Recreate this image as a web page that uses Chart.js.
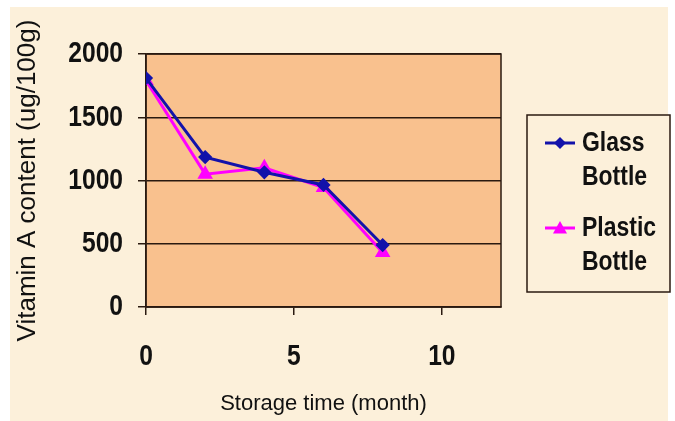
<!DOCTYPE html>
<html lang="en">
<head>
  <meta charset="UTF-8" />
  <title>Vitamin A content vs storage time</title>
  <script src="https://cdn.jsdelivr.net/npm/chart.js"></script>
  <style>
    body { margin: 0; background: #ffffff; }
    #wrap { width: 675px; height: 421px; }
  </style>
</head>
<body>
<div id="wrap"><canvas id="chart"></canvas></div>
<script>
  // data
  const months = [0, 2, 4, 6, 8];
  const glass = [1810, 1185, 1065, 965, 490];
  const plastic = [1790, 1050, 1100, 945, 430];
  const seriesNames = [["Glass", "Bottle"], ["Plastic", "Bottle"]];
  const xTicks = [0, 5, 10];
  const yTicks = [0, 500, 1000, 1500, 2000];

  const cream = "#fcf0da";
  const peach = "#f9c18e";
  const blue = "#1212aa";
  const pink = "#ff00ff";
  const ink = "#111111";
  const sans = "'Liberation Sans', Arial, sans-serif";

  // no narrow face installed, so squeeze Arial-like text by hand
  function narrowText(ctx, text, x, y, align) {
    ctx.save();
    ctx.translate(x, y);
    ctx.scale(0.82, 1);
    ctx.textAlign = align;
    ctx.fillText(text, 0, 0);
    ctx.restore();
  }

  // outer frame + plot fill
  const backdrop = {
    id: "backdrop",
    beforeDraw(chart) {
      const { ctx, chartArea: a } = chart;
      ctx.save();
      ctx.fillStyle = "#ffffff";
      ctx.fillRect(0, 0, chart.width, chart.height);
      ctx.fillStyle = cream;
      ctx.fillRect(10, 7, chart.width - 17, chart.height - 7);
      ctx.fillStyle = peach;
      ctx.fillRect(a.left, a.top, a.right - a.left, a.bottom - a.top);
      ctx.restore();
    },
    beforeDatasetsDraw(chart) {
      const { ctx, chartArea: a } = chart;
      ctx.save();
      ctx.strokeStyle = "#2a1a10";
      ctx.lineWidth = 1.5;
      ctx.strokeRect(a.left, a.top, a.right - a.left, a.bottom - a.top);
      ctx.restore();
    }
  };

  // tick labels in a condensed bold face
  const narrowTicks = {
    id: "narrowTicks",
    afterDraw(chart) {
      const { ctx } = chart;
      const { x, y } = chart.scales;
      ctx.save();
      ctx.fillStyle = ink;
      ctx.font = "bold 30px " + sans;
      ctx.textBaseline = "middle";
      y.ticks.forEach(t => narrowText(ctx, String(t.value), y.right - 23, y.getPixelForValue(t.value), "right"));
      x.ticks.forEach(t => narrowText(ctx, String(t.value), x.getPixelForValue(t.value), x.top + 50, "center"));
      ctx.restore();
    }
  };

  function marker(ctx, style, x, y, r) {
    ctx.beginPath();
    if (style === "rectRot") {
      ctx.moveTo(x, y - r); ctx.lineTo(x + r, y); ctx.lineTo(x, y + r); ctx.lineTo(x - r, y);
    } else {
      ctx.moveTo(x, y - r); ctx.lineTo(x + r, y + r * 0.8); ctx.lineTo(x - r, y + r * 0.8);
    }
    ctx.closePath();
    ctx.fill();
  }

  // boxed legend on the right, two-line labels
  const sideLegend = {
    id: "sideLegend",
    afterDraw(chart) {
      const { ctx } = chart;
      const box = { x: 527, y: 115, w: 143, h: 177 };
      ctx.save();
      ctx.fillStyle = cream;
      ctx.fillRect(box.x, box.y, box.w, box.h);
      ctx.strokeStyle = "#2a1a10";
      ctx.lineWidth = 1.5;
      ctx.strokeRect(box.x, box.y, box.w, box.h);
      ctx.font = "bold 28px " + sans;
      ctx.textBaseline = "middle";
      chart.data.datasets.forEach((ds, i) => {
        const y = box.y + 28 + i * 85;
        ctx.strokeStyle = ds.borderColor;
        ctx.lineWidth = 3;
        ctx.beginPath();
        ctx.moveTo(box.x + 18, y);
        ctx.lineTo(box.x + 48, y);
        ctx.stroke();
        ctx.fillStyle = ds.pointBackgroundColor;
        marker(ctx, ds.pointStyle, box.x + 33, y, ds.pointRadius + 1);
        ctx.fillStyle = ink;
        ds.label.forEach((line, j) => narrowText(ctx, line, box.x + 55, y + j * 34, "left"));
      });
      ctx.restore();
    }
  };

  new Chart(document.getElementById("chart"), {
    type: "line",
    data: {
      datasets: [
        {
          label: seriesNames[0],
          data: months.map((m, i) => ({ x: m, y: glass[i] })),
          borderColor: blue, pointBackgroundColor: blue, pointBorderColor: blue,
          pointStyle: "rectRot", pointRadius: 5, borderWidth: 3
        },
        {
          label: seriesNames[1],
          data: months.map((m, i) => ({ x: m, y: plastic[i] })),
          borderColor: pink, pointBackgroundColor: pink, pointBorderColor: pink,
          pointStyle: "triangle", pointRadius: 6, borderWidth: 3
        }
      ]
    },
    options: {
      responsive: true,
      maintainAspectRatio: false,
      animation: false,
      layout: { padding: { left: 10, top: 54, right: 174, bottom: 0 } },
      plugins: { legend: { display: false }, tooltip: { enabled: false } },
      scales: {
        x: {
          type: "linear", min: 0, max: 12,
          afterFit: s => { s.height = 114; },
          afterBuildTicks: s => { s.ticks = xTicks.map(v => ({ value: v })); },
          grid: { drawOnChartArea: false, drawTicks: true, tickLength: 8, color: "#2a1a10", lineWidth: 1.5 },
          border: { color: "#2a1a10", width: 1.5 },
          ticks: { display: false },
          title: { display: true, text: "Storage time (month)", color: ink,
                   padding: { top: 0, bottom: 4 }, font: { family: sans, size: 22 } }
        },
        y: {
          min: 0, max: 2000,
          afterFit: s => { s.width = 136; },
          afterBuildTicks: s => { s.ticks = yTicks.map(v => ({ value: v })); },
          grid: { drawTicks: true, tickLength: 8, color: "#2a1a10", lineWidth: 1.5 },
          border: { color: "#2a1a10", width: 1.5 },
          ticks: { display: false },
          title: { display: true, text: "Vitamin A content (ug/100g)", color: ink,
                   padding: { top: 2, bottom: 0 }, font: { family: sans, size: 26 } }
        }
      }
    },
    plugins: [backdrop, narrowTicks, sideLegend]
  });
</script>
</body>
</html>
